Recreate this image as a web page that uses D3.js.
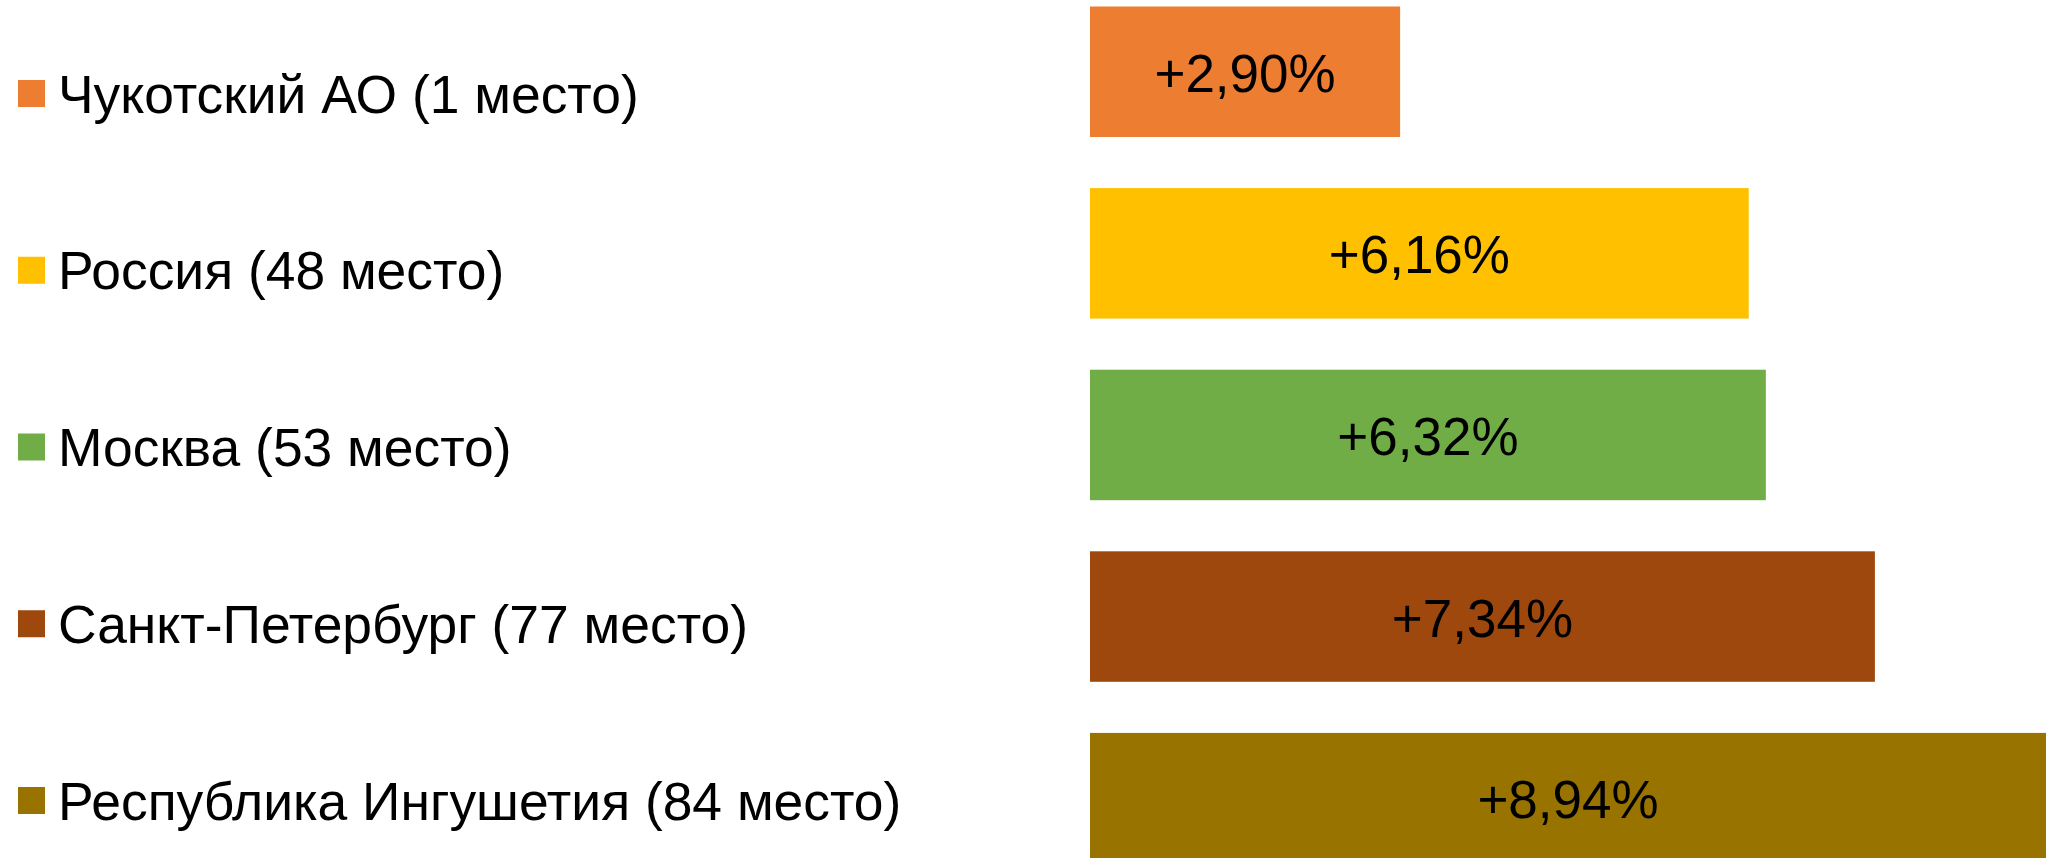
<!DOCTYPE html>
<html>
<head>
<meta charset="utf-8">
<script src="https://cdn.jsdelivr.net/npm/d3@7"></script>
<style>
  html, body { margin: 0; padding: 0; background: #fff; overflow: hidden; }
  svg { display: block; font-family: "Liberation Sans", Arial, sans-serif; }
</style>
</head>
<body>
<svg id="chart" width="2046" height="858"></svg>
<script>
// Regions and their growth, %
const regions = ['Чукотский АО (1 место)', 'Россия (48 место)', 'Москва (53 место)', 'Санкт-Петербург (77 место)', 'Республика Ингушетия (84 место)'];
const growth = [2.90, 6.16, 6.32, 7.34, 8.94];
const labels = ['+2,90%', '+6,16%', '+6,32%', '+7,34%', '+8,94%'];
const colors = ['#ED7D31', '#FFC000', '#70AD47', '#9E480E', '#997300'];

(function() {
  const svg = d3.select('#chart');
  const data = regions.map((r, i) => ({name: r, v: growth[i], label: labels[i], color: colors[i]}));

  // bars
  const x = d3.scaleLinear().domain([0, 8.94]).range([1090, 2046]);
  const y = d3.scaleBand().domain(regions).range([6.5, 863.4]).paddingInner(0.2815).paddingOuter(0);

  svg.append('g').selectAll('rect')
    .data(data)
    .enter().append('rect')
    .attr('x', x(0))
    .attr('y', d => y(d.name))
    .attr('width', d => x(d.v) - x(0))
    .attr('height', y.bandwidth())
    .attr('fill', d => d.color);

  svg.append('g').selectAll('text')
    .data(data)
    .enter().append('text')
    .attr('x', d => (x(0) + x(d.v)) / 2)
    .attr('y', d => y(d.name) + y.bandwidth() / 2 + 20)
    .attr('text-anchor', 'middle')
    .attr('font-size', 53)
    .attr('fill', '#000')
    .text(d => d.label);

  // legend
  const ly = d3.scalePoint().domain(regions).range([93.5, 800.5]);
  const legend = svg.append('g').selectAll('g')
    .data(data)
    .enter().append('g')
    .attr('transform', d => `translate(0,${ly(d.name)})`);
  legend.append('rect')
    .attr('x', 18).attr('y', -13.5)
    .attr('width', 27).attr('height', 27)
    .attr('fill', d => d.color);
  legend.append('text')
    .attr('x', 58).attr('y', 19)
    .attr('font-size', 53.4)
    .attr('fill', '#000')
    .text(d => d.name);
})();
</script>
</body>
</html>
